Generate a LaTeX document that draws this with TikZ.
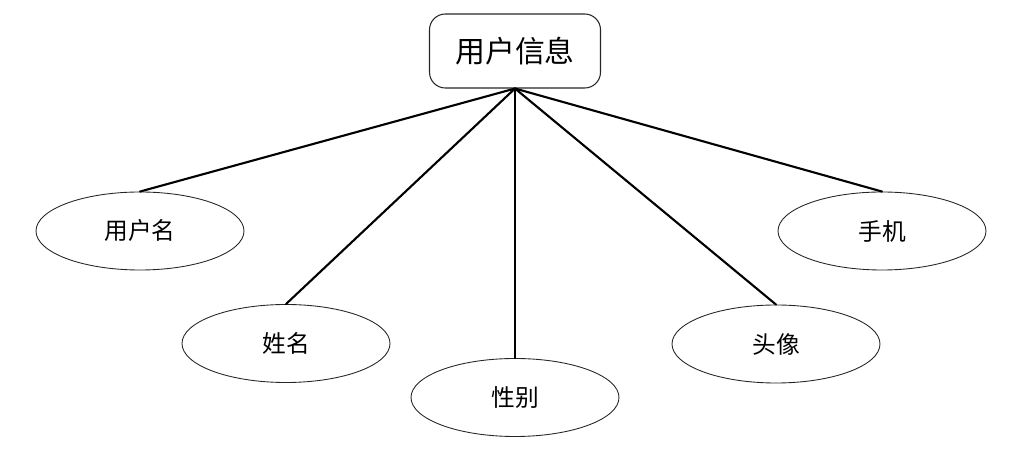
\documentclass[tikz,border=0pt]{standalone}
\usepackage{fontspec}
\setmainfont{Noto Sans CJK SC}
\usetikzlibrary{shapes.geometric}

\begin{document}
\begin{tikzpicture}[
    line cap=round,
    entity/.style={draw=black!85, rounded corners=9pt, minimum width=3.42cm,
        minimum height=1.48cm, line width=0.6pt, font=\fontsize{17}{20}\selectfont},
    attr/.style={draw=black!85, ellipse, minimum width=4.16cm, minimum height=1.56cm,
        inner sep=0pt, line width=0.5pt, font=\fontsize{13.5}{16}\selectfont},
    link/.style={line width=1.2pt},
]

% ---------- frame: keeps the page at the size of the reference ----------
\useasboundingbox (0,0) rectangle (20.4,-9.22);

% ---------- entity and its attributes ----------
\node[entity] (info) at (10.3,-1.02) {用户信息};

\node[attr] (uname)  at (2.8,-4.62)   {用户名};
\node[attr] (name)   at (5.72,-6.87)  {姓名};
\node[attr] (sex)    at (10.3,-7.95)  {性别};
\node[attr] (avatar) at (15.52,-6.88) {头像};
\node[attr] (phone)  at (17.64,-4.62) {手机};

% ---------- connectors ----------
\foreach \a in {uname,name,sex,avatar,phone}{
    \draw[link] (info.south) -- (\a.north);
}

\end{tikzpicture}
\end{document}
